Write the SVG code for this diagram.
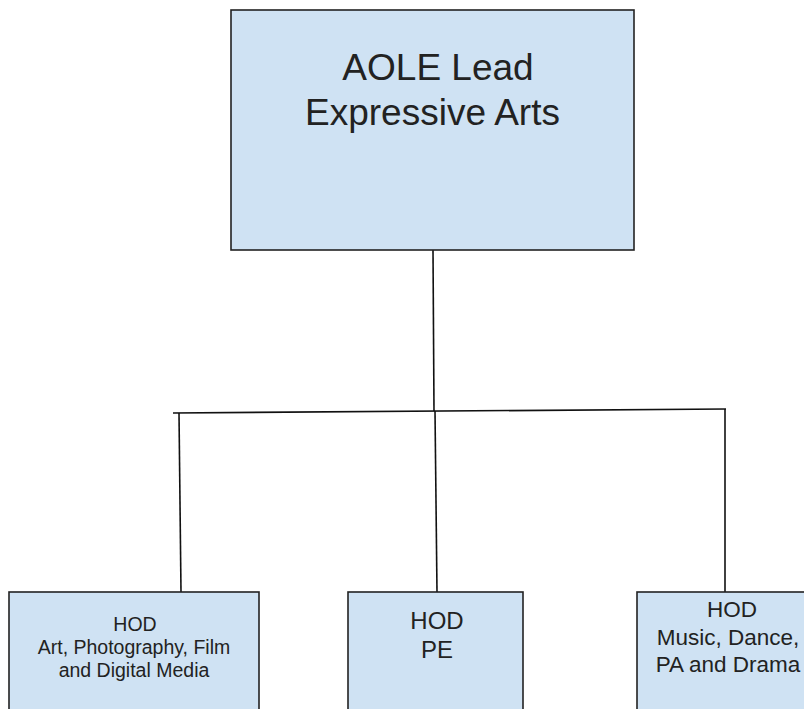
<svg xmlns="http://www.w3.org/2000/svg" width="804" height="709" viewBox="0 0 804 709">
<style>
.box{fill:#cfe2f3;stroke:#222;stroke-width:1.6}
.t{font-family:"Liberation Sans",Arial,sans-serif;fill:#222;text-anchor:middle}
.c{stroke:#111;stroke-width:1.6;fill:none}
</style>
<rect width="804" height="709" fill="#fff"/>
<g id="connectors">
<line class="c" x1="433" y1="250" x2="434" y2="411"/>
<line class="c" x1="173" y1="413" x2="726" y2="409"/>
<line class="c" x1="179" y1="413" x2="181" y2="592"/>
<line class="c" x1="435" y1="411" x2="437" y2="592"/>
<line class="c" x1="725" y1="409" x2="725" y2="592"/>
</g>
<g id="aole-lead">
<rect class="box" x="231" y="10" width="403" height="240"/>
<text class="t" font-size="37"><tspan x="438" y="80">AOLE Lead</tspan><tspan x="432.5" y="125">Expressive Arts</tspan></text>
</g>
<g id="hod-art">
<rect class="box" x="9" y="592" width="250" height="130"/>
<text class="t" font-size="19.5"><tspan x="135" y="631">HOD</tspan><tspan x="134" y="654">Art, Photography, Film</tspan><tspan x="134" y="677">and Digital Media</tspan></text>
</g>
<g id="hod-pe">
<rect class="box" x="348" y="592" width="175" height="130"/>
<text class="t" font-size="24"><tspan x="437" y="629">HOD</tspan><tspan x="437" y="658">PE</tspan></text>
</g>
<g id="hod-music">
<rect class="box" x="637" y="592" width="180" height="130"/>
<text class="t" font-size="22.5"><tspan x="732" y="617">HOD</tspan><tspan x="728" y="645">Music, Dance,</tspan><tspan x="728" y="672">PA and Drama</tspan></text>
</g>
</svg>
